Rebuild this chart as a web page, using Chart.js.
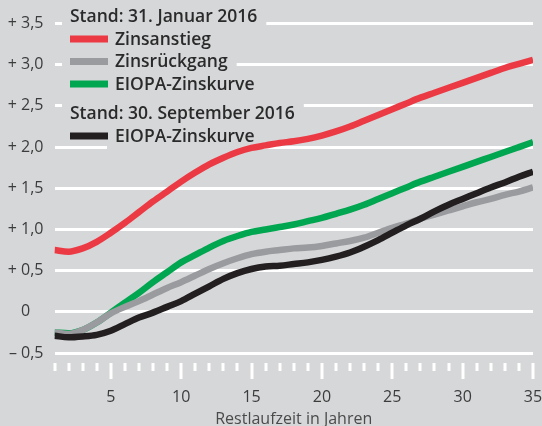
<!DOCTYPE html>
<html><head><meta charset="utf-8">
<script src="https://cdn.jsdelivr.net/npm/chart.js@4/dist/chart.umd.min.js"></script>
<style>html,body{margin:0;padding:0;background:#d6d7d9;}</style>
</head><body>
<canvas id="c" width="542" height="426"></canvas>
<script>
const years = [1,2,3,4,5,6,7,8,9,10,11,12,13,14,15,16,17,18,19,20,21,22,23,24,25,26,27,28,29,30,31,32,33,34,35];
const zinsanstieg = [0.75,0.73,0.77,0.85,0.96,1.08,1.21,1.34,1.46,1.58,1.69,1.79,1.87,1.94,1.99,2.02,2.05,2.07,2.10,2.14,2.19,2.25,2.32,2.39,2.46,2.53,2.60,2.66,2.72,2.78,2.84,2.90,2.96,3.01,3.06];
const zinsrueckgang = [-0.25,-0.27,-0.22,-0.13,-0.02,0.06,0.13,0.21,0.29,0.36,0.44,0.52,0.59,0.65,0.70,0.73,0.75,0.77,0.78,0.80,0.83,0.86,0.90,0.96,1.02,1.07,1.13,1.18,1.23,1.28,1.33,1.37,1.42,1.46,1.51];
const eiopaJan = [-0.25,-0.26,-0.22,-0.13,-0.01,0.11,0.23,0.36,0.48,0.60,0.69,0.78,0.86,0.92,0.97,1.00,1.03,1.06,1.10,1.14,1.19,1.24,1.30,1.37,1.44,1.51,1.58,1.64,1.70,1.76,1.82,1.88,1.94,2.00,2.06];
const eiopaSep = [-0.29,-0.31,-0.30,-0.28,-0.23,-0.15,-0.07,-0.01,0.06,0.13,0.22,0.31,0.40,0.47,0.52,0.55,0.56,0.58,0.60,0.63,0.67,0.72,0.79,0.87,0.96,1.05,1.13,1.22,1.30,1.37,1.44,1.51,1.57,1.64,1.70];
const yTickValues = [-0.5,0,0.5,1,1.5,2,2.5,3,3.5];
const xLabelValues = [5,10,15,20,25,30,35];
const xTitle = 'Restlaufzeit in Jahren';
const header1 = 'Stand: 31. Januar 2016';
const header2 = 'Stand: 30. September 2016';
const labelsJan = ['Zinsanstieg','Zinsrückgang','EIOPA-Zinskurve'];
const labelsSep = ['EIOPA-Zinskurve'];

const RED='#ec3a45', GRAY='#9a9b9e', GREEN='#00a650', BLACK='#231f20', BG='#d6d7d9';
const FONT = '"Open Sans", "DejaVu Sans", sans-serif';

function fmt(v){
  if (Math.abs(v) < 1e-9) return '0\u2008\u2007';
  const s = Math.abs(v).toFixed(1).replace('.', ',');
  return (v > 0 ? '+ ' : '\u2013 ') + s;
}
const pts = arr => arr.map((v,i)=>({x:years[i], y:v}));

const bgPlugin = {
  id:'bg',
  beforeDraw(chart){
    const c=chart.ctx; c.save(); c.fillStyle=BG; c.fillRect(0,0,chart.width,chart.height); c.restore();
  }
};

const overlayPlugin = {
  id:'overlay',
  beforeDatasetsDraw(chart){
    const c=chart.ctx, xs=chart.scales.x, area=chart.chartArea;
    c.save();
    c.fillStyle='#ffffff';
    years.forEach(v=>{
      const x=xs.getPixelForValue(v);
      const major = xLabelValues.includes(v);
      c.fillRect(Math.round(x)-1.5, area.bottom+10, 3, major?16:8);
    });
    const left=62, sw0=70, sw1=108, tx=115;
    const rows=[];
    rows.push({type:'h', text:header1, y:16, bgL:left});
    const janCols=[RED,GRAY,GREEN];
    labelsJan.forEach((t,i)=>rows.push({type:'i', text:t, color:janCols[i], y:39+i*22.5, bgL:left}));
    rows.push({type:'h', text:header2, y:113, bgL:left});
    labelsSep.forEach((t,i)=>rows.push({type:'i', text:t, color:BLACK, y:136+i*22.5, bgL:tx-8}));
    c.font='600 17.5px '+FONT;
    c.textBaseline='middle';
    rows.forEach(r=>{
      const x0 = r.type==='h'?sw0:tx;
      const w = c.measureText(r.text).width;
      c.fillStyle=BG;
      c.fillRect(r.bgL, r.y-13, x0+w+9-r.bgL, 26);
    });
    rows.forEach(r=>{
      const x0 = r.type==='h'?sw0:tx;
      if(r.type==='i'){ c.fillStyle=r.color; c.fillRect(sw0, r.y-3.5, sw1-sw0, 7); }
      c.fillStyle='#2a2a2a';
      c.fillText(r.text, x0, r.y+1);
    });
    c.restore();
  }
};

const ds = (data,color)=>({data:pts(data), borderColor:color, backgroundColor:color, borderWidth:6.5, pointRadius:0, cubicInterpolationMode:'monotone', fill:false, borderCapStyle:'butt'});

new Chart(document.getElementById('c'), {
  type:'line',
  data:{ datasets:[ ds(eiopaSep,BLACK), ds(zinsrueckgang,GRAY), ds(eiopaJan,GREEN), ds(zinsanstieg,RED) ] },
  options:{
    responsive:false, animation:false, devicePixelRatio:1,
    layout:{padding:{left:0,right:9,top:23.5,bottom:0}},
    plugins:{legend:{display:false}, tooltip:{enabled:false}},
    scales:{
      x:{
        type:'linear', min:1, max:35,
        grid:{display:false}, border:{display:false},
        ticks:{stepSize:1, autoSkip:false, maxRotation:0,
          callback:v=> xLabelValues.includes(v)? String(v):'',
          font:{family:FONT,size:16}, color:'#3c3c3c', padding:27},
        title:{display:true, text:xTitle, font:{family:FONT,size:16}, color:'#4a4a4a', padding:{top:0,bottom:-3}},
        afterFit:s=>{ s.height = 73; s.paddingLeft = 0; s.paddingRight = 0; }
      },
      y:{
        min:-0.5, max:3.5,
        afterBuildTicks:s=>{ s.ticks = yTickValues.map(v=>({value:v})); },
        grid:{color:'#ffffff', lineWidth:3, drawTicks:false}, border:{display:false},
        ticks:{callback:v=>fmt(v), font:{family:FONT,size:16}, color:'#3c3c3c', padding:11},
        afterFit:s=>{ s.width = 54.5; s.paddingTop = 0; s.paddingBottom = 0; }
      }
    }
  },
  plugins:[bgPlugin, overlayPlugin]
});
</script>
</body></html>
